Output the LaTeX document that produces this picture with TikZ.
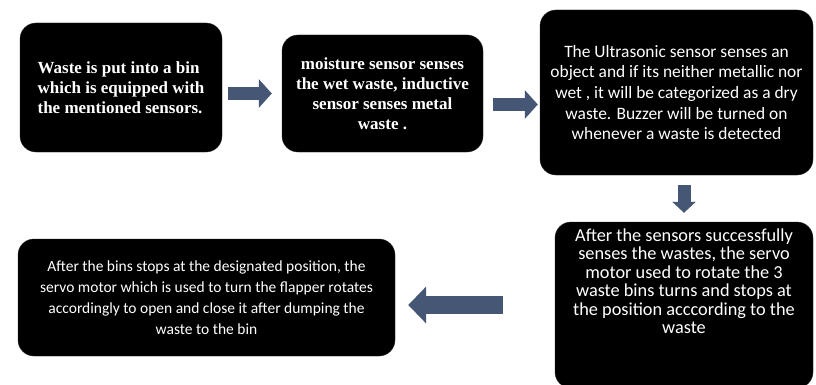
\documentclass[tikz,border=0pt]{standalone}
\usepackage{fontspec}
\newfontfamily\stepserif{Liberation Serif}
\newfontfamily\stepsans{Carlito}
\usetikzlibrary{arrows.meta}
\definecolor{flowblue}{HTML}{465775}

\begin{document}
\begin{tikzpicture}[x=1pt, y=-1pt,
  box/.style={fill=black, draw=black!85, rounded corners=16pt, text=white, inner sep=0pt},
  flow/.style={draw=flowblue, line cap=butt},
  serifbig/.style={font=\stepserif\bfseries\fontsize{17}{20}\selectfont},
  sansbig/.style={font=\stepsans\fontsize{17.4}{20.6}\selectfont}]
  \useasboundingbox[fill=white] (0,0) rectangle (816,385);
  \clip (0,0) rectangle (816,385);

  % boxes
  \node[box, serifbig, align=left, minimum width=202pt, minimum height=129pt] (put) at (121,87.5)
    {Waste is put into a bin\\which is equipped with\\the mentioned sensors.};
  \node[box, serifbig, align=center, minimum width=201pt, minimum height=117pt] (sense) at (382.5,93.5)
    {moisture sensor senses\\the wet waste, inductive\\sensor senses metal\\waste .};
  \node[box, sansbig, align=center, minimum width=273pt, minimum height=165pt] (sonic) at (676.5,92.5)
    {The Ultrasonic sensor senses an\\object and if its neither metallic nor\\wet , it will be categorized as a dry\\waste. Buzzer will be turned on\\whenever a waste is detected};
  \node[box, minimum width=258pt, minimum height=166pt] (rotate) at (684,305) {};
  \node[text=white, align=center, font=\stepsans\fontsize{18.3}{18.5}\selectfont] (rotatetext) at ([yshift=24pt]rotate.center)
    {After the sensors successfully\\senses the wastes, the servo\\motor used to rotate the 3\\waste bins turns and stops at\\the position acccording to the\\waste};
  \node[box, align=center, font=\stepsans\fontsize{15.5}{21}\selectfont, minimum width=377pt, minimum height=117pt] (flap) at (206.5,297.5)
    {After the bins stops at the designated position, the\\servo motor which is used to turn the flapper rotates\\accordingly to open and close it after dumping the\\waste to the bin};

  % arrows
  \draw[flow, line width=13pt, -{Triangle[length=13pt, width=28pt]}, shorten <=6pt, shorten >=10pt]
    (put.east |- sense.west) -- (sense.west);
  \draw[flow, line width=13pt, -{Triangle[length=13pt, width=28pt]}, shorten <=10pt, shorten >=2pt]
    ([yshift=-11pt]sense.east) -- ([yshift=-11pt]sense.east -| sonic.west);
  \draw[flow, line width=13pt, -{Triangle[length=11pt, width=23pt]}, shorten <=10pt, shorten >=9pt]
    (rotate.north |- sonic.south) -- (rotate.north);
  \draw[flow, line width=18pt, -{Triangle[length=18pt, width=36pt]}, shorten <=52pt, shorten >=13pt]
    (rotate.west) -- (rotate.west -| flap.east);
\end{tikzpicture}
\end{document}
